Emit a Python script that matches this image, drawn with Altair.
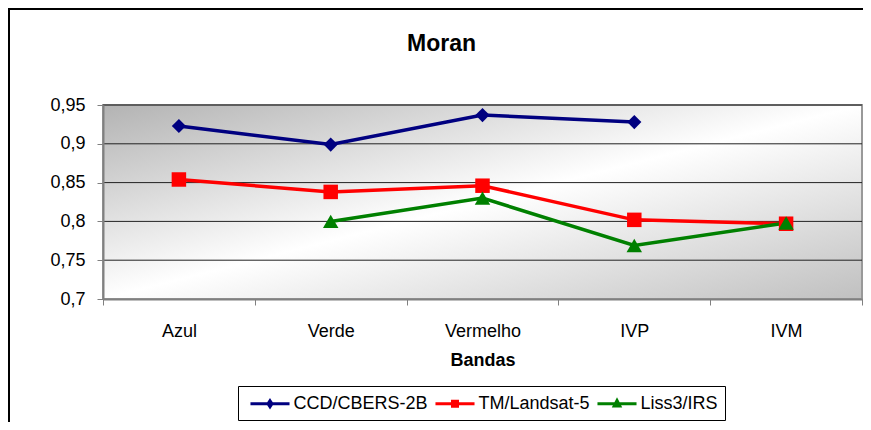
import altair as alt
import pandas as pd

# ---- data ----
bands = ["Azul", "Verde", "Vermelho", "IVP", "IVM"]
series_names = ["CCD/CBERS-2B", "TM/Landsat-5", "Liss3/IRS"]
ccd_values = [0.923, 0.899, 0.937, 0.928, None]
tm_values = [0.854, 0.838, 0.846, 0.802, 0.797]
liss_values = [None, 0.800, 0.830, 0.769, 0.798]
y_ticks = [0.7, 0.75, 0.8, 0.85, 0.9, 0.95]

colors = ["#000080", "#ff0000", "#008000"]
shapes = ["diamond", "square", "triangle-up"]
sizes = [200, 210, 240]

legend_paths = [
    "M-2.17,0L2.17,0M0,-0.33L0.22,0L0,0.33L-0.22,0Z",
    "M-2.17,0L2.17,0M-0.28,-0.28L0.28,-0.28L0.28,0.28L-0.28,0.28Z",
    "M-2.17,0L2.17,0M0,-0.36L0.31,0.25L-0.31,0.25Z",
]

rows = []
for s, vals in zip(series_names, [ccd_values, tm_values, liss_values]):
    for i, (b, v) in enumerate(zip(bands, vals)):
        if v is not None:
            rows.append({"band": b, "idx": i, "series": s, "value": v})
df = pd.DataFrame(rows)
grid_df = pd.DataFrame({"value": y_ticks[1:]})

W, H = 759, 194

x_enc = alt.X(
    "band:N",
    sort=bands,
    scale=alt.Scale(type="band", domain=bands, paddingInner=0, paddingOuter=0),
    axis=alt.Axis(
        title="Bandas", labelAngle=0, tickBand="extent", tickSize=6,
        tickColor="#808080", domainColor="#808080", domainWidth=2,
        labelPadding=17, labelFontSize=18, labelColor="black",
        titleFontSize=18, titleFontWeight="bold", titleColor="black",
        titlePadding=11, grid=False, zindex=1,
    ),
)
y_scale = alt.Scale(domain=[0.7, 0.95], nice=False, zero=False)
y_axis = alt.Axis(
    title=None, values=y_ticks,
    labelExpr="replace(format(datum.value, '.2~f'), '.', ',')",
    grid=False, tickSize=6, tickColor="#808080",
    domainColor="#808080", domainWidth=2,
    labelPadding=12, labelFontSize=18, labelColor="black", zindex=1,
)
y_enc = alt.Y("value:Q", scale=y_scale, axis=y_axis)

gradient = alt.LinearGradient(
    gradient="linear", x1=0, y1=0, x2=1, y2=1,
    stops=[
        alt.GradientStop(offset=0, color="#b3b3b3"),
        alt.GradientStop(offset=0.5, color="#ffffff"),
        alt.GradientStop(offset=1, color="#c0c0c0"),
    ],
)

one = pd.DataFrame({"k": [0]})
frame = alt.Chart(one).mark_rect(
    fillOpacity=0, stroke="black", strokeWidth=2
).encode(
    x=alt.value(-94), x2=alt.value(W + 60), y=alt.value(-96), y2=alt.value(H + 160)
)

background = alt.Chart(one).mark_rect(
    fill=gradient, stroke="#999999", strokeWidth=2
).encode(
    x=alt.value(0), x2=alt.value(W), y=alt.value(0), y2=alt.value(H)
)

grid = alt.Chart(grid_df).mark_rule(color="#222222", strokeWidth=1).encode(
    y=y_enc
)

leg = alt.Legend(
    title=None, orient="none", legendX=135, legendY=281, direction="horizontal",
    labelFontSize=18, labelColor="black",
    symbolSize=324, symbolOpacity=1, symbolStrokeWidth=3,
    symbolOffset=14.5, labelOffset=13,
    columnPadding=1, padding=7, strokeColor="black",
)

lines = alt.Chart(df).mark_line(strokeWidth=3.5).encode(
    x=x_enc, y=y_enc,
    color=alt.Color("series:N", scale=alt.Scale(domain=series_names, range=colors), legend=leg),
    order=alt.Order("idx:Q"),
)

point_layers = []
for s, c, sh, sz in zip(series_names, colors, shapes, sizes):
    point_layers.append(
        alt.Chart(df[df["series"] == s]).mark_point(
            shape=sh, filled=True, size=sz, color=c, opacity=1
        ).encode(x=x_enc, y=y_enc)
    )

legend_layer = alt.Chart(df).mark_point(filled=True, opacity=0).encode(
    x=x_enc, y=y_enc,
    fill=alt.Fill("series:N", scale=alt.Scale(domain=series_names, range=colors), legend=leg),
    shape=alt.Shape("series:N", scale=alt.Scale(domain=series_names, range=legend_paths), legend=leg),
)

chart = alt.layer(frame, background, grid, lines, *point_layers, legend_layer).properties(
    width=W, height=H,
    autosize=alt.AutoSizeParams(type="none"),
    padding={"left": 95, "top": 97, "right": 1, "bottom": 123},
    title=alt.TitleParams(
        "Moran", fontSize=23, fontWeight="bold", font="Liberation Sans",
        anchor="middle", frame="group", dx=-41, offset=-48, color="black",
    ),
).configure(
    font="Liberation Sans", background="white"
).configure_axis(
    labelFont="Liberation Sans", titleFont="Liberation Sans"
).configure_view(
    stroke=None
)

chart.save("out.html", embed_options={"renderer": "svg", "actions": False})
